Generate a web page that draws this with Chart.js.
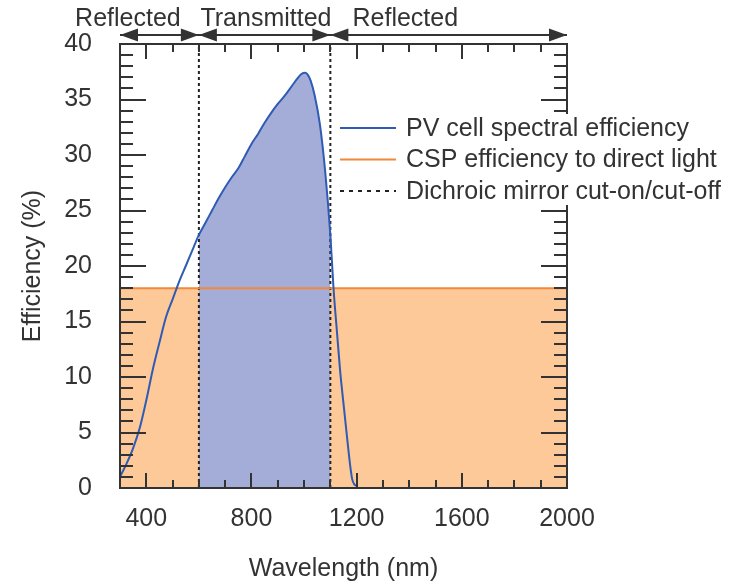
<!DOCTYPE html>
<html>
<head>
<meta charset="utf-8">
<script src="https://cdn.jsdelivr.net/npm/chart.js@4/dist/chart.umd.min.js"></script>
<style>
  html, body { margin: 0; padding: 0; background: #fff; }
  canvas { display: block; }
</style>
</head>
<body>
<canvas id="chart" width="741" height="586"></canvas>
<script>
// PV cell spectral efficiency (%) against wavelength (nm)
const pvWavelength = [300, 325, 350, 375, 400, 425, 450, 475, 500, 525, 550, 575, 600,
  625, 650, 675, 700, 725, 750, 775, 800, 825, 850, 875, 900, 925, 950, 975, 990,
  1005, 1015, 1025, 1040, 1060, 1080, 1100, 1112, 1125, 1137, 1150, 1162, 1175, 1183, 1192, 1200];
const pvEfficiency = [1.0, 2.2, 3.6, 5.4, 7.9, 10.7, 13.1, 15.4, 17.0, 18.6, 20.0, 21.4, 22.8,
  23.9, 25.0, 26.1, 27.1, 28.0, 28.8, 29.9, 31.0, 31.9, 32.9, 33.8, 34.6, 35.3, 36.1, 36.9, 37.3,
  37.4, 37.2, 36.7, 35.4, 32.8, 28.6, 22.8, 18.0, 14.1, 10.6, 7.6, 4.9, 2.1, 0.8, 0.3, 0.2];

// CSP efficiency to direct light (%), flat across the spectrum
const cspEfficiency = 18;

// Dichroic mirror cut-on / cut-off wavelengths (nm)
const cutOn = 600;
const cutOff = 1100;

// Axis ranges and labelled ticks
const xRange = [300, 2000];
const yRange = [0, 40];
const xTickValues = [400, 800, 1200, 1600, 2000];
const yTickValues = [0, 5, 10, 15, 20, 25, 30, 35, 40];

// Spectral bands along the top edge
const bandEdges = [300, 600, 1100, 2000];
const bandLabels = ['Reflected', 'Transmitted', 'Reflected'];
const bandLabelCentres = [330, 855, 1385];

const seriesLabels = ['PV cell spectral efficiency', 'CSP efficiency to direct light', 'Dichroic mirror cut-on/cut-off'];

const FONT = '"Liberation Sans", Arial, Helvetica, sans-serif';
const TEXT = '#333333';
const INK = '#333333';
const BLUE_LINE = '#2f5bb5';
const BLUE_FILL = '#a4add7';
const ORANGE_LINE = '#f2883a';
const ORANGE_FILL = '#fdc998';

const pvPoints = pvWavelength.map((w, i) => ({ x: w, y: pvEfficiency[i] }));
const pvTransmitted = pvPoints.filter(p => p.x >= cutOn && p.x <= cutOff);
const cspPoints = [{ x: xRange[0], y: cspEfficiency }, { x: xRange[1], y: cspEfficiency }];

// Frame with inward ticks on all four sides
const frameTicks = {
  id: 'frameTicks',
  afterDatasetsDraw(chart) {
    const { ctx, chartArea: a, scales: { x, y } } = chart;
    ctx.save();
    ctx.strokeStyle = INK;
    ctx.lineWidth = 2;
    ctx.beginPath();
    for (let v = xRange[0]; v <= xRange[1]; v += 100) {
      const px = Math.round(x.getPixelForValue(v));
      const len = v % 400 === 0 ? 15 : 8;
      ctx.moveTo(px, a.bottom); ctx.lineTo(px, a.bottom - len);
      ctx.moveTo(px, a.top); ctx.lineTo(px, a.top + len);
    }
    for (let v = yRange[0]; v <= yRange[1]; v += 1) {
      const py = Math.round(y.getPixelForValue(v));
      const len = v % 5 === 0 ? 26 : 13;
      ctx.moveTo(a.left, py); ctx.lineTo(a.left + len, py);
      ctx.moveTo(a.right, py); ctx.lineTo(a.right - len, py);
    }
    ctx.stroke();
    ctx.strokeRect(a.left, a.top, a.right - a.left, a.bottom - a.top);
    ctx.restore();
  }
};

// Band arrows and their labels above the plot
const bandArrows = {
  id: 'bandArrows',
  afterDraw(chart) {
    const { ctx, chartArea: a, scales: { x } } = chart;
    const yLine = a.top - 9;
    const headL = 18, headH = 6.5;
    ctx.save();
    ctx.strokeStyle = INK;
    ctx.fillStyle = INK;
    ctx.lineWidth = 2;
    const px = bandEdges.map(v => x.getPixelForValue(v));
    ctx.beginPath();
    ctx.moveTo(px[0], yLine); ctx.lineTo(px[px.length - 1], yLine);
    ctx.stroke();
    const head = (tip, dir) => {
      ctx.beginPath();
      ctx.moveTo(tip, yLine);
      ctx.lineTo(tip - dir * headL, yLine - headH);
      ctx.lineTo(tip - dir * headL, yLine + headH);
      ctx.closePath();
      ctx.fill();
    };
    for (let i = 0; i < px.length - 1; i++) {
      head(px[i], -1);
      head(px[i + 1], 1);
    }
    ctx.font = '25px ' + FONT;
    ctx.fillStyle = TEXT;
    ctx.textAlign = 'center';
    ctx.textBaseline = 'alphabetic';
    bandLabels.forEach((t, i) => {
      ctx.fillText(t, x.getPixelForValue(bandLabelCentres[i]), a.top - 18);
    });
    ctx.restore();
  }
};

// Legend on a white panel inside the plot area
const innerLegend = {
  id: 'innerLegend',
  afterDraw(chart) {
    const { ctx, chartArea: a } = chart;
    const x0 = a.left + 220, x1 = a.left + 276, tx = a.left + 286;
    const y0 = a.top + 84, dy = 31.5;
    ctx.save();
    ctx.font = '25px ' + FONT;
    ctx.fillStyle = '#ffffff';
    const widest = Math.max(...[0, 1, 2].map(i => ctx.measureText(chart.data.datasets[i].label).width));
    ctx.fillRect(x0 - 4, y0 - 14, tx - x0 + widest + 10, 2 * dy + 28);
    ctx.textBaseline = 'middle';
    ctx.textAlign = 'left';
    [0, 1, 2].forEach((di, i) => {
      const ds = chart.data.datasets[di];
      const yy = y0 + i * dy;
      ctx.strokeStyle = ds.borderColor;
      ctx.lineWidth = di === 2 ? 1.8 : 2;
      ctx.setLineDash(di === 2 ? [4, 5] : []);
      ctx.beginPath();
      ctx.moveTo(x0, yy); ctx.lineTo(x1, yy);
      ctx.stroke();
      ctx.setLineDash([]);
      ctx.fillStyle = TEXT;
      ctx.fillText(ds.label, tx, yy + 1);
    });
    ctx.restore();
  }
};

new Chart(document.getElementById('chart'), {
  type: 'line',
  data: {
    datasets: [
      {
        label: seriesLabels[0], data: pvPoints,
        borderColor: BLUE_LINE, borderWidth: 2, pointRadius: 0,
        cubicInterpolationMode: 'monotone', fill: false, order: 1
      },
      {
        label: seriesLabels[1], data: cspPoints,
        borderColor: ORANGE_LINE, borderWidth: 2, pointRadius: 0, fill: false, order: 2
      },
      {
        label: seriesLabels[2], data: [{ x: cutOn, y: yRange[0] }, { x: cutOn, y: yRange[1] }],
        borderColor: '#222222', borderWidth: 2, borderDash: [3, 3], pointRadius: 0, fill: false, order: 3
      },
      {
        label: 'cut-off', data: [{ x: cutOff, y: yRange[0] }, { x: cutOff, y: yRange[1] }],
        borderColor: '#222222', borderWidth: 2, borderDash: [3, 3], pointRadius: 0, fill: false, order: 3
      },
      {
        label: 'transmitted', data: pvTransmitted,
        borderWidth: 0, borderColor: 'rgba(0,0,0,0)', backgroundColor: BLUE_FILL,
        cubicInterpolationMode: 'monotone', pointRadius: 0, fill: 'origin', order: 4
      },
      {
        label: 'reflected', data: cspPoints,
        borderWidth: 0, borderColor: 'rgba(0,0,0,0)', backgroundColor: ORANGE_FILL,
        pointRadius: 0, fill: 'origin', order: 5
      }
    ]
  },
  options: {
    responsive: false,
    animation: false,
    devicePixelRatio: 1,
    layout: { padding: { left: 0, top: 44, right: 174, bottom: 0 } },
    plugins: {
      legend: { display: false },
      tooltip: { enabled: false }
    },
    scales: {
      x: {
        type: 'linear', min: xRange[0], max: xRange[1],
        grid: { display: false, drawTicks: false },
        border: { display: false },
        afterBuildTicks: s => { s.ticks = xTickValues.map(v => ({ value: v })); },
        afterFit: s => { s.height = 98; },
        ticks: {
          autoSkip: false, maxRotation: 0, padding: 16, color: TEXT,
          font: { family: FONT, size: 25 },
          callback: v => String(v)
        },
        title: {
          display: true, text: 'Wavelength (nm)', color: TEXT,
          font: { family: FONT, size: 25 }, padding: { top: 0, bottom: 2 }
        }
      },
      y: {
        type: 'linear', min: yRange[0], max: yRange[1],
        grid: { display: false, drawTicks: false },
        border: { display: false },
        afterBuildTicks: s => { s.ticks = yTickValues.map(v => ({ value: v })); },
        afterFit: s => { s.width = 120; },
        ticks: {
          autoSkip: false, padding: 28, color: TEXT,
          font: { family: FONT, size: 25 },
          callback: v => String(v)
        },
        title: {
          display: true, text: 'Efficiency (%)', color: TEXT,
          font: { family: FONT, size: 25 }, padding: { top: 18, bottom: 0 }
        }
      }
    }
  },
  plugins: [frameTicks, bandArrows, innerLegend]
});
</script>
</body>
</html>
